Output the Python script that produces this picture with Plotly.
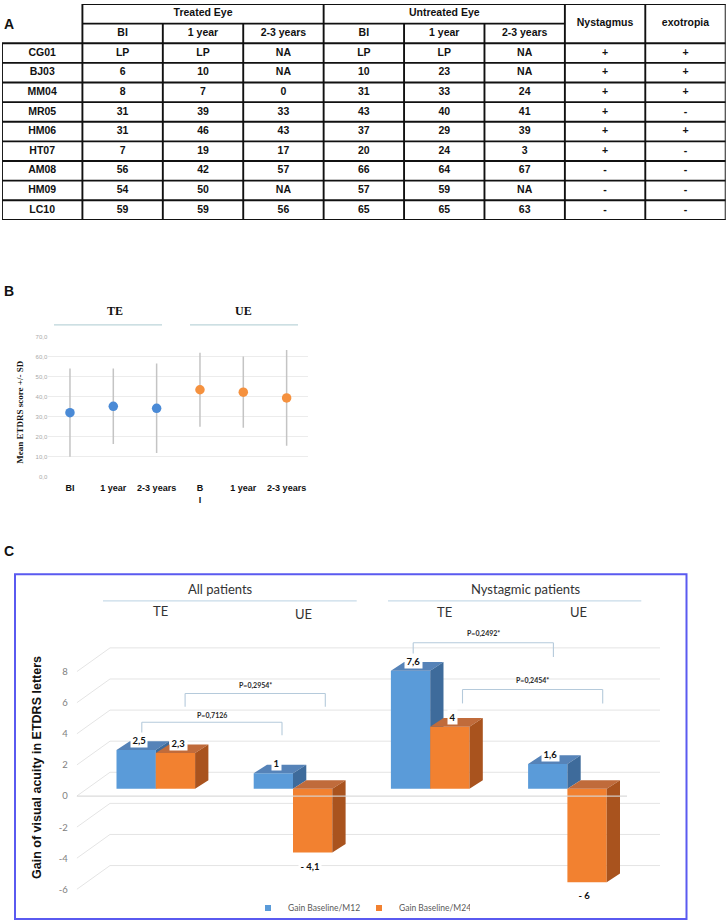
import plotly.graph_objects as go

W, H = 726, 924

# ---------------- Panel A data ----------------
patients = ["CG01", "BJ03", "MM04", "MR05", "HM06", "HT07", "AM08", "HM09", "LC10"]
te_bl = ["LP", "6", "8", "31", "31", "7", "56", "54", "59"]
te_1y = ["LP", "10", "7", "39", "46", "19", "42", "50", "59"]
te_23 = ["NA", "NA", "0", "33", "43", "17", "57", "NA", "56"]
ue_bl = ["LP", "10", "31", "43", "37", "20", "66", "57", "65"]
ue_1y = ["LP", "23", "33", "40", "29", "24", "64", "59", "65"]
ue_23 = ["NA", "NA", "24", "41", "39", "3", "67", "NA", "63"]
nystagmus = ["+", "+", "+", "+", "+", "+", "-", "-", "-"]
exotropia = ["+", "+", "+", "-", "+", "-", "-", "-", "-"]
group_headers = ["Treated Eye", "Untreated Eye"]
sub_headers = ["BI", "1 year", "2-3 years"]
side_headers = ["Nystagmus", "exotropia"]

# ---------------- Panel B data ----------------
b_labels = ["BI", "1 year", "2-3 years", "B<br>I", "1 year", "2-3 years"]
b_te_mean = [32.0, 35.2, 34.2]
b_te_sd = [22.1, 18.9, 22.4]
b_ue_mean = [43.5, 42.3, 39.4]
b_ue_sd = [18.5, 17.8, 24.0]
b_ticks = [0, 10, 20, 30, 40, 50, 60, 70]
b_ticklabels = ["0,0", "10,0", "20,0", "30,0", "40,0", "50,0", "60,0", "70,0"]
b_groups = ["TE", "UE"]

# ---------------- Panel C data ----------------
c_populations = ["All patients", "Nystagmic patients"]
c_eyes = ["TE", "UE", "TE", "UE"]
gain_m12 = [2.5, 1.0, 7.6, 1.6]
gain_m24 = [2.3, -4.1, 4.0, -6.0]
c_series = ["Gain Baseline/M12", "Gain Baseline/M24"]
c_ticks = [-6, -4, -2, 0, 2, 4, 6, 8]
p_texts = ["P=0,7126", "P=0,2954*", "P=0,2492*", "P=0,2454*"]
p_left = [(0, 0), (1, 0), (0, 2), (1, 2)]   # (series, group)
p_right = [(0, 1), (1, 1), (0, 3), (1, 3)]


def xp(p):
    return p / W


def yp(p):
    return 1 - p / H


fig = go.Figure()
shapes = []
annotations = []

SANS = "Liberation Sans, Arial, sans-serif"
SERIF = "Liberation Serif, Times New Roman, serif"
CAL = "Lato, Open Sans, sans-serif"


def paper_text(text, xpx, ypx, font, xanchor="center", angle=0):
    annotations.append(dict(x=xp(xpx), y=yp(ypx), xref="paper", yref="paper",
                            xanchor=xanchor, yanchor="middle", textangle=angle,
                            text=text, showarrow=False, font=font))


# =============== Panel A: table ===============
n_rows = len(patients)
HDR = 2
n_cols = 1 + 3 * len(group_headers) + len(side_headers)
lx, ly = [], []
lx += [1, n_cols, None]; ly += [0, 0, None]
lx += [1, 1 + 3 * len(group_headers), None]; ly += [1, 1, None]
for r in range(HDR, HDR + n_rows + 1):
    lx += [0, n_cols, None]; ly += [r, r, None]
for c in range(n_cols + 1):
    if c == 0:
        top = HDR
    elif c <= 3 * len(group_headers) and (c - 1) % 3 != 0:
        top = 1
    else:
        top = 0
    lx += [c, c, None]; ly += [top, HDR + n_rows, None]
fig.add_trace(go.Scatter(x=lx, y=ly, mode="lines", line=dict(color="#111111", width=1.9),
                         xaxis="x", yaxis="y", showlegend=False, hoverinfo="skip"))

tx, ty, tt = [], [], []
for g, name in enumerate(group_headers):
    tx.append(1 + 3 * g + 1.5); ty.append(0.5); tt.append(name)
    for k, s in enumerate(sub_headers):
        tx.append(1 + 3 * g + k + 0.5); ty.append(1.5); tt.append(s)
for j, s in enumerate(side_headers):
    tx.append(1 + 3 * len(group_headers) + j + 0.5); ty.append(1.0); tt.append(s)
cols = [patients, te_bl, te_1y, te_23, ue_bl, ue_1y, ue_23, nystagmus, exotropia]
for c, col in enumerate(cols):
    for r, v in enumerate(col):
        tx.append(c + 0.5); ty.append(HDR + r + 0.5); tt.append(v)
fig.add_trace(go.Scatter(x=tx, y=ty, text=["<b>%s</b>" % t for t in tt], mode="text",
                         textfont=dict(family=SANS, size=10.5, color="#111111"),
                         xaxis="x", yaxis="y", showlegend=False, hoverinfo="skip"))

# =============== Panel B: mean +/- SD ===============
bx = list(range(len(b_labels)))
fig.add_trace(go.Scatter(x=bx[:3], y=b_te_mean, mode="markers",
                         marker=dict(color="#4a8ad6", size=9.5),
                         error_y=dict(type="data", array=b_te_sd, color="#c4c4c4", thickness=1.5, width=0),
                         xaxis="x2", yaxis="y2", showlegend=False))
fig.add_trace(go.Scatter(x=bx[3:], y=b_ue_mean, mode="markers",
                         marker=dict(color="#f5913e", size=9.5),
                         error_y=dict(type="data", array=b_ue_sd, color="#c4c4c4", thickness=1.5, width=0),
                         xaxis="x2", yaxis="y2", showlegend=False))

# =============== Panel C: 3D-like bars ===============
PXU = 15.65
C_TOP_PX, C_BOT_PX = 625.0, 905.0
C_TICK_ZERO_PX, C_BAR_ZERO_PX = 798.3, 791.0
C_LEFT_PX, C_RIGHT_PX = 76.7, 660.0
G0_PX, GSTEP_PX = 155.8, 137.2
BAR_W = 39.3 / GSTEP_PX
DX = 13.3 / GSTEP_PX
DY = 8.7 / PXU
WALL_DX = 33.3 / GSTEP_PX
WALL_DY = 24.0 / PXU

x3_range = [(C_LEFT_PX - G0_PX) / GSTEP_PX, (C_RIGHT_PX - G0_PX) / GSTEP_PX]
y3_range = [(C_TICK_ZERO_PX - C_BOT_PX) / PXU, (C_TICK_ZERO_PX - C_TOP_PX) / PXU]
ybar_range = [(C_BAR_ZERO_PX - C_BOT_PX) / PXU, (C_BAR_ZERO_PX - C_TOP_PX) / PXU]

gx, gy = [], []
for v in c_ticks:
    gx += [x3_range[0], x3_range[0] + WALL_DX, x3_range[1], None]
    gy += [v, v + WALL_DY, v + WALL_DY, None]
fig.add_trace(go.Scatter(x=gx, y=gy, mode="lines", line=dict(color="#e4e4e4", width=1),
                         xaxis="x3", yaxis="y3", showlegend=False, hoverinfo="skip"))

series_vals = [gain_m12, gain_m24]
series_offsets = [-BAR_W, 0.0]
front_cols = ["#5a9bd9", "#f28130"]
top_cols = ["#5683b8", "#c06b3b"]
side_cols = ["#3e6b9b", "#a9531e"]
series_axes = ["y4", "y5"]
groups = list(range(len(gain_m12)))

for s in range(2):
    vals = series_vals[s]
    fig.add_trace(go.Bar(x=groups, y=vals, width=BAR_W, offset=series_offsets[s],
                         marker=dict(color=front_cols[s], line=dict(width=0)),
                         name=c_series[s], xaxis="x3", yaxis=series_axes[s], showlegend=False))
    topx, topy, sidex, sidey = [], [], [], []
    for i, v in enumerate(vals):
        x0 = i + series_offsets[s]
        x1 = x0 + BAR_W
        yt, yb = max(v, 0), min(v, 0)
        topx += [x0, x1, x1 + DX, x0 + DX, x0, None]
        topy += [yt, yt, yt + DY, yt + DY, yt, None]
        sidex += [x1, x1, x1 + DX, x1 + DX, x1, None]
        sidey += [yb, yt, yt + DY, yb + DY, yb, None]
    fig.add_trace(go.Scatter(x=topx, y=topy, mode="lines", fill="toself", fillcolor=top_cols[s],
                             line=dict(width=0, color=top_cols[s]), xaxis="x3", yaxis=series_axes[s],
                             showlegend=False, hoverinfo="skip"))
    fig.add_trace(go.Scatter(x=sidex, y=sidey, mode="lines", fill="toself", fillcolor=side_cols[s],
                             line=dict(width=0, color=side_cols[s]), xaxis="x3", yaxis=series_axes[s],
                             showlegend=False, hoverinfo="skip"))
    fig.add_trace(go.Scatter(x=[None], y=[None], mode="markers", name=c_series[s],
                             marker=dict(symbol="square", size=6, color=front_cols[s]),
                             xaxis="x3", yaxis=series_axes[s], showlegend=True))


def fmt(v):
    s = ("%g" % abs(v)).replace(".", ",")
    return s if v >= 0 else "- " + s


for s in range(2):
    for i, v in enumerate(series_vals[s]):
        xc = i + series_offsets[s] + BAR_W / 2
        annotations.append(dict(x=xc, y=v, xref="x3", yref=series_axes[s],
                                xanchor="center", yanchor="middle",
                                text="<b>%s</b>" % fmt(v), showarrow=False,
                                xshift=3 if v >= 0 else -3, yshift=10 if v >= 0 else -13,
                                bgcolor="white", borderpad=1.5,
                                font=dict(family=CAL, size=9.5, color="#111111")))

shapes.append(dict(type="line", xref="x3", yref="y3", x0=x3_range[0], x1=(627 - G0_PX) / GSTEP_PX,
                   y0=0, y1=0, line=dict(color="rgba(215,215,215,0.9)", width=1.2), layer="above"))

# p-value brackets
p_top_px = [724, 695, 644, 691]
p_leg_px = [(737, 737), (708.3, 708.3), (656.7, 658.3), (705, 705)]
p_shift_px = [(-1, 2), (3, 6), (-4, -1), (6, 9)]
p_text_px = [717.3, 686.5, 635.0, 682.3]
for k, txt in enumerate(p_texts):
    (sl, gl), (sr, gr) = p_left[k], p_right[k]
    xl = gl + series_offsets[sl] + BAR_W / 2 + DX / 2 + p_shift_px[k][0] / GSTEP_PX
    xr = gr + series_offsets[sr] + BAR_W / 2 + DX / 2 + p_shift_px[k][1] / GSTEP_PX
    for (xa, ya, xb, yb) in [(xl, p_leg_px[k][0], xl, p_top_px[k]),
                             (xl, p_top_px[k], xr, p_top_px[k]),
                             (xr, p_top_px[k], xr, p_leg_px[k][1])]:
        shapes.append(dict(type="line", xref="x3", yref="paper", x0=xa, x1=xb, y0=yp(ya), y1=yp(yb),
                           line=dict(color="#b5cadb", width=1.1), layer="above"))
    annotations.append(dict(x=(xl + xr) / 2, y=yp(p_text_px[k]), xref="x3", yref="paper",
                            xanchor="center", yanchor="middle",
                            text="<b>%s</b>" % txt, showarrow=False,
                            font=dict(family=CAL, size=7, color="#2a2a2a")))

# ---------------- headers / frames / labels ----------------
for letter, ypx in [("A", 20.7), ("B", 290), ("C", 551.7)]:
    paper_text("<b>%s</b>" % letter, 2, ypx, dict(family=SANS, size=14, color="#111111"), xanchor="left")

for g, (cx, x0, x1) in enumerate([(115, 54, 162), (243, 190, 298)]):
    paper_text("<b>%s</b>" % b_groups[g], cx, 310, dict(family=SERIF, size=12, color="#111111"))
    shapes.append(dict(type="line", xref="paper", yref="paper", x0=xp(x0), x1=xp(x1),
                       y0=yp(324), y1=yp(324), line=dict(color="#bcd5da", width=1.2)))
paper_text("<b>Mean ETDRS score +/- SD</b>", 20, 412.5, dict(family=SERIF, size=9, color="#111111"), angle=-90)

for k, (cx, x0, x1) in enumerate([(220, 103, 356.7), (526.3, 388, 641.3)]):
    paper_text(c_populations[k], cx, 590, dict(family=CAL, size=13, color="#333333"))
    shapes.append(dict(type="line", xref="paper", yref="paper", x0=xp(x0), x1=xp(x1),
                       y0=yp(601.7), y1=yp(601.7), line=dict(color="#c8dbe9", width=1.2)))
for k, (cx, cy) in enumerate([(160, 611.7), (303.3, 615), (444.7, 613.3), (578, 613.3)]):
    paper_text(c_eyes[k], cx, cy, dict(family=CAL, size=13, color="#333333"))
paper_text("<b>Gain of visual acuity in ETDRS letters</b>", 37, 770,
           dict(family=SANS, size=12.5, color="#111111"), angle=-90)
shapes.append(dict(type="rect", xref="paper", yref="paper", x0=xp(15), x1=xp(686.5),
                   y0=yp(922), y1=yp(575), line=dict(color="#5a5af0", width=2)))

fig.update_layout(
    width=W, height=H, margin=dict(l=0, r=0, t=0, b=0),
    paper_bgcolor="white", plot_bgcolor="rgba(0,0,0,0)",
    barmode="overlay",
    xaxis=dict(domain=[xp(2), xp(725.7)], range=[0, n_cols], visible=False, fixedrange=True),
    yaxis=dict(domain=[yp(218.3), yp(1)], range=[HDR + n_rows, 0], visible=False, fixedrange=True),
    xaxis2=dict(domain=[xp(48.3), xp(308.3)], range=[-0.5, 5.5], anchor="y2",
                tickvals=bx, ticktext=["<b>%s</b>" % t for t in b_labels],
                tickfont=dict(family=SANS, size=9, color="#111111"),
                showgrid=False, zeroline=False, showline=False,
                ticks="outside", ticklen=3, tickcolor="rgba(0,0,0,0)"),
    yaxis2=dict(domain=[yp(476.7), yp(336)], range=[0, 70], anchor="x2",
                tickvals=b_ticks, ticktext=b_ticklabels,
                tickfont=dict(family=SANS, size=6, color="#a8a8a8"),
                showgrid=True, gridcolor="#ececec", gridwidth=1, zeroline=False, showline=False),
    xaxis3=dict(domain=[xp(C_LEFT_PX), xp(C_RIGHT_PX)], range=x3_range, anchor="y3", visible=False),
    yaxis3=dict(domain=[yp(C_BOT_PX), yp(C_TOP_PX)], range=y3_range, anchor="x3",
                tickvals=c_ticks, ticktext=[str(t) for t in c_ticks],
                tickfont=dict(family=CAL, size=9.5, color="#808080"),
                ticks="outside", ticklen=6, tickcolor="rgba(0,0,0,0)",
                showgrid=False, zeroline=False, showline=False),
    yaxis4=dict(overlaying="y3", anchor="x3", range=ybar_range, visible=False),
    yaxis5=dict(overlaying="y3", anchor="x3", range=ybar_range, visible=False),
    legend=dict(orientation="h", x=xp(248), y=yp(911), xanchor="left", yanchor="middle",
                font=dict(family=CAL, size=8.5, color="#595959"), bgcolor="rgba(0,0,0,0)",
                itemwidth=30, entrywidth=66, entrywidthmode="pixels", tracegroupgap=0),
    shapes=shapes, annotations=annotations, showlegend=True,
)

fig.write_html("out.html", config={"displayModeBar": False},
               post_script="document.body.style.margin='0px';")
